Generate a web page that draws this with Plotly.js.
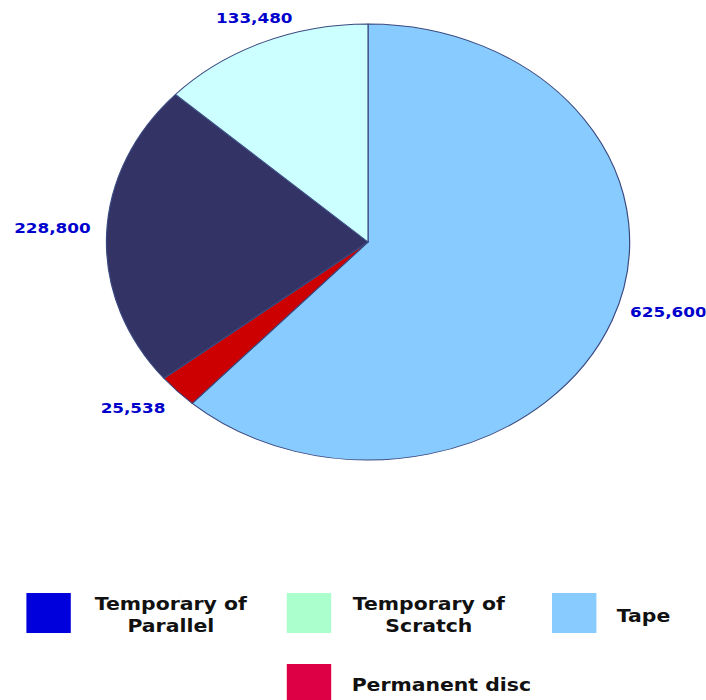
<!DOCTYPE html>
<html><head><meta charset="utf-8">
<script src="https://cdn.plot.ly/plotly-3.0.1.min.js"></script>
<style>
html,body{margin:0;padding:0;background:#fff;overflow:hidden}
#wrap{width:706px;height:700px;overflow:hidden}
#chart{width:588px;height:700px;transform:scaleX(1.2);transform-origin:0 0}
</style></head>
<body><div id="wrap"><div id="chart"></div></div>
<script>
// data
const sliceLabels = ['Tape', 'Permanent disc', 'Temporary of Parallel', 'Temporary of Scratch'];
const sliceValues = [625600, 25538, 228800, 133480];
const sliceColors = ['#88CCFF', '#CC0000', '#333366', '#CCFFFF'];
const legendLabels = ['Temporary of<br>Parallel', 'Temporary of<br>Scratch', 'Tape', 'Permanent disc'];
const legendColors = ['#0000DD', '#AAFFCC', '#88CCFF', '#DD0044'];

const W = 588, H = 700;
const px = x => x / W;
const py = y => 1 - y / H;

// legend layout (pixel boxes in unstretched space)
const legendPos = [
  {sx: 22, sy: 593, tx: 142, ty: 615, anchor: 'center'},
  {sx: 239, sy: 593, tx: 357, ty: 615, anchor: 'center'},
  {sx: 460, sy: 593, tx: 536, ty: 616, anchor: 'center'},
  {sx: 239, sy: 664, tx: 291, ty: 685, anchor: 'left'}
];
const swW = 37, swH = 40;
// small nudges of the outside value labels (unstretched px)
const labelNudge = [[11, -10], [-6, 13], [-9, -7], [29, -18]];

const shapes = legendLabels.map((l, i) => ({
  type: 'rect', xref: 'paper', yref: 'paper',
  x0: px(legendPos[i].sx), x1: px(legendPos[i].sx + swW),
  y0: py(legendPos[i].sy), y1: py(legendPos[i].sy + swH),
  fillcolor: legendColors[i], line: {width: 0}
}));
const annotations = legendLabels.map((l, i) => ({
  xref: 'paper', yref: 'paper', showarrow: false,
  x: px(legendPos[i].tx), y: py(legendPos[i].ty),
  xanchor: legendPos[i].anchor, yanchor: 'middle', align: 'center',
  text: '<b>' + l + '</b>',
  font: {family: 'DejaVu Sans', size: 17, color: '#111111'}
}));

const trace = {
  type: 'pie',
  labels: sliceLabels,
  values: sliceValues,
  sort: false,
  direction: 'clockwise',
  rotation: 0,
  marker: {colors: sliceColors, line: {color: '#3A4A80', width: 1}},
  texttemplate: '<b>%{value:,.0f}</b>',
  textposition: 'outside',
  outsidetextfont: {family: 'DejaVu Sans', size: 14, color: '#0000CC'},
  domain: {x: [px(306.7 - 218), px(306.7 + 218)], y: [py(460), py(24)]},
  hoverinfo: 'none',
  showlegend: false
};

Plotly.newPlot('chart', [trace], {
  width: W, height: H,
  margin: {l: 0, r: 0, t: 0, b: 0},
  paper_bgcolor: '#ffffff',
  showlegend: false,
  shapes: shapes,
  annotations: annotations
}, {displayModeBar: false, staticPlot: true}).then(gd => {
  gd.querySelectorAll('.pielayer g.slice').forEach((s, i) => {
    const g = s.querySelector('g.slicetext');
    if (g && labelNudge[i]) g.setAttribute('transform', 'translate(' + labelNudge[i][0] + ',' + labelNudge[i][1] + ')');
  });
});
</script>
</body></html>
